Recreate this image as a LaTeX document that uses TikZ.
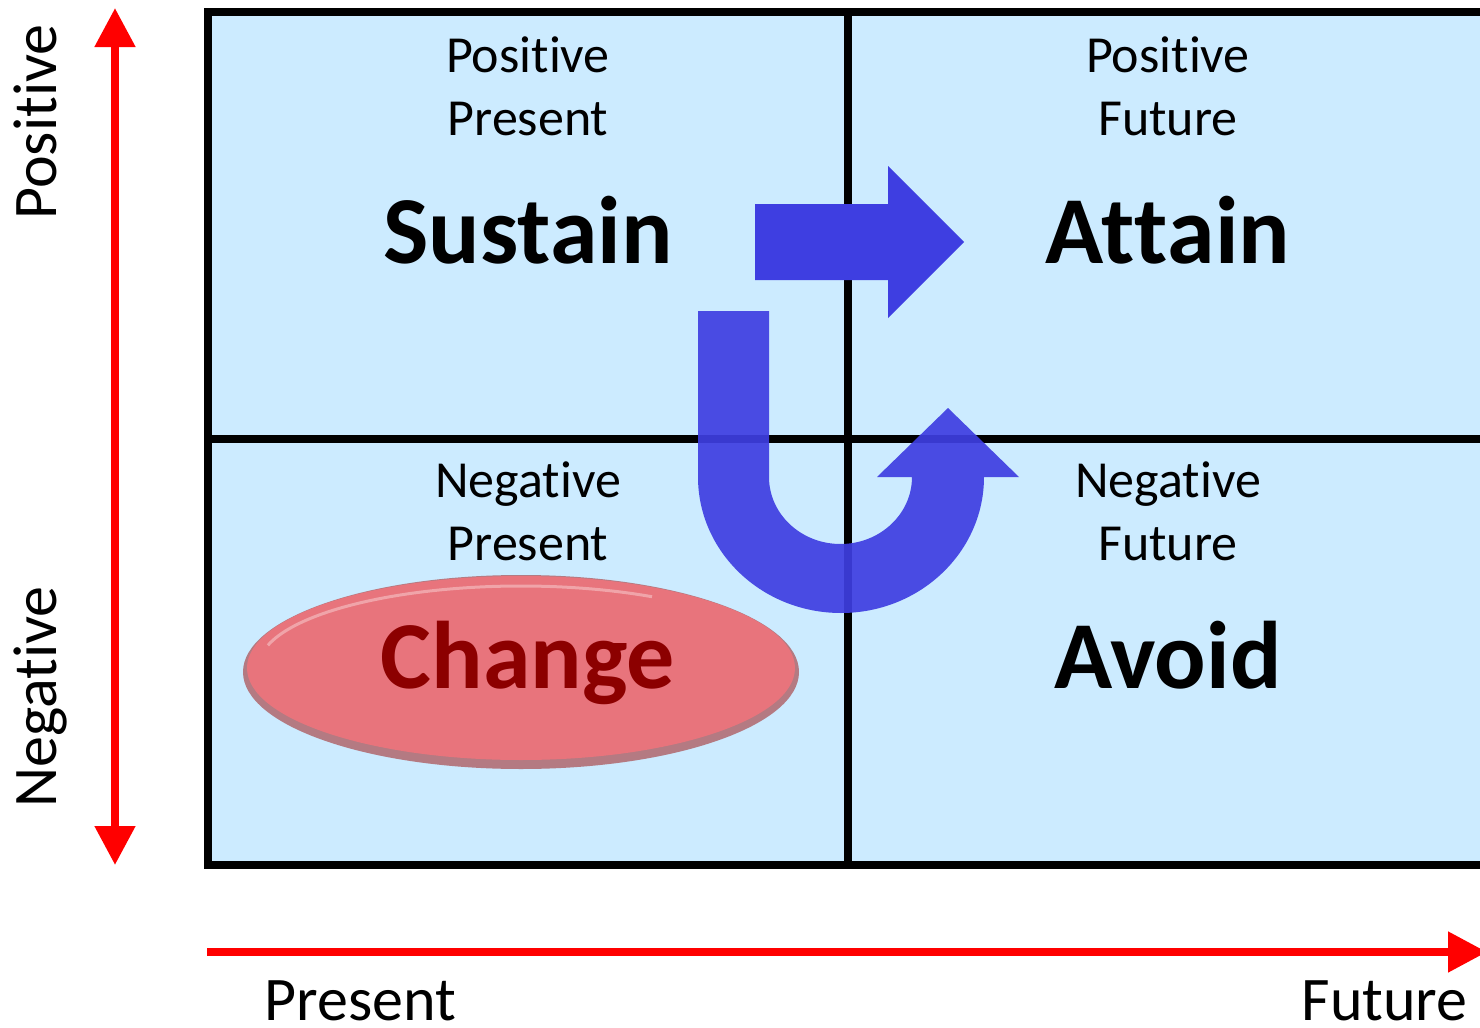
\documentclass[tikz,border=0pt]{standalone}
\usepackage{fontspec}
\setmainfont[RawFeature={-liga;-clig;-calt;-dlig}]{Carlito}
\usetikzlibrary{arrows.meta}

\definecolor{cellblue}{RGB}{204,235,255}
\definecolor{arrowblue}{RGB}{62,62,225}
\definecolor{pillred}{RGB}{232,116,124}
\definecolor{pillrim}{RGB}{180,122,130}
\definecolor{pilltext}{RGB}{140,0,0}
\definecolor{axisred}{RGB}{255,0,0}

\tikzset{
  gridline/.style={line width=4pt, black},
  axisline/.style={line width=4pt, axisred},
  small/.style={anchor=base, inner sep=0pt, font=\fontsize{26}{30}\selectfont},
  big/.style={anchor=base, inner sep=0pt, font=\bfseries\fontsize{48}{56}\selectfont},
  axislabel/.style={anchor=base, inner sep=0pt, text depth=0pt, font=\fontsize{31}{36}\selectfont},
  bluearrow/.style={fill=arrowblue, draw=none},
}

\begin{document}
\begin{tikzpicture}[x=0.5pt, y=-0.5pt]
  \useasboundingbox (0,0) rectangle (1480,1028);
  \clip (0,0) rectangle (1480,1028);

  % quadrant background and grid
  \fill[cellblue] (208,12) rectangle (1500,865);
  \draw[gridline] (208,865) -- (208,12) -- (1500,12);
  \draw[gridline] (204,865) -- (1500,865);
  \draw[gridline] (848,12) -- (848,869);
  \draw[gridline] (208,439) -- (1500,439);

  % axes
  \coordinate (ytop) at (115,8);
  \coordinate (ybot) at (115,865);
  \coordinate (xleft) at (207,952);
  \coordinate (xright) at (1487,952);
  \draw[axisline, {Triangle[width=19.5pt,length=19.5pt]}-{Triangle[width=19.5pt,length=19.5pt]}] (ytop) -- (ybot);
  \draw[axisline, -{Triangle[width=19.5pt,length=19.5pt]}] (xleft) -- (xright);

  \node[axislabel, rotate=90] (lpos) at (56,122) {Posit\kern0pt ive};
  \node[axislabel, rotate=90] (lneg) at (56,697) {Negat\kern0pt ive};
  \node[axislabel, anchor=base west] (lpres) at (264,1020) {Present};
  \node[axislabel, anchor=base east] (lfut) at (1468,1020) {Future};

  % quadrant captions
  \node[small] (pp1) at (528,72) {Posit\kern0pt ive};
  \node[small] (pp2) at (528,135) {Present};
  \node[big]   (sustain) at (528,263) {Sustain};

  \node[small] (pf1) at (1168,72) {Posit\kern0pt ive};
  \node[small] (pf2) at (1168,135) {Future};
  \node[big]   (attain) at (1168,263) {At\kern0pt t\kern0pt ain};

  \node[small] (np1) at (528,497) {Negat\kern0pt ive};
  \node[small] (np2) at (528,560) {Present};

  \node[small] (nf1) at (1168,497) {Negat\kern0pt ive};
  \node[small] (nf2) at (1168,560) {Future};
  \node[big]   (avoid) at (1168,688) {Avoid};

  % straight arrow: sustain towards attain
  \path[bluearrow] (755,204) -- (888,204) -- (888,166) -- (964,242)
    -- (888,318) -- (888,280) -- (755,280) -- cycle;

  % u-turn arrow
  \path[bluearrow, fill opacity=0.92] (698,311) -- (769,311) -- (769,477)
    arc[start angle=180, end angle=0, x radius=71.5, y radius=67]
    -- (877,477) -- (948,408) -- (1019,477) -- (984,477)
    arc[start angle=0, end angle=180, x radius=143, y radius=136]
    -- cycle;

  % change pill with a darker rim and a soft highlight along its top
  \fill[pillrim] (521,672) ellipse[x radius=278, y radius=97];
  \fill[pillred] (521,668) ellipse[x radius=274, y radius=92];
  \draw[white, opacity=0.35, line width=1.5pt]
    (521,666) ++({262*cos(195)},{80*sin(195)})
    arc[start angle=195, end angle=300, x radius=262, y radius=80];
  \node[big, text=pilltext] (change) at (528,688) {Change};
\end{tikzpicture}
\end{document}
